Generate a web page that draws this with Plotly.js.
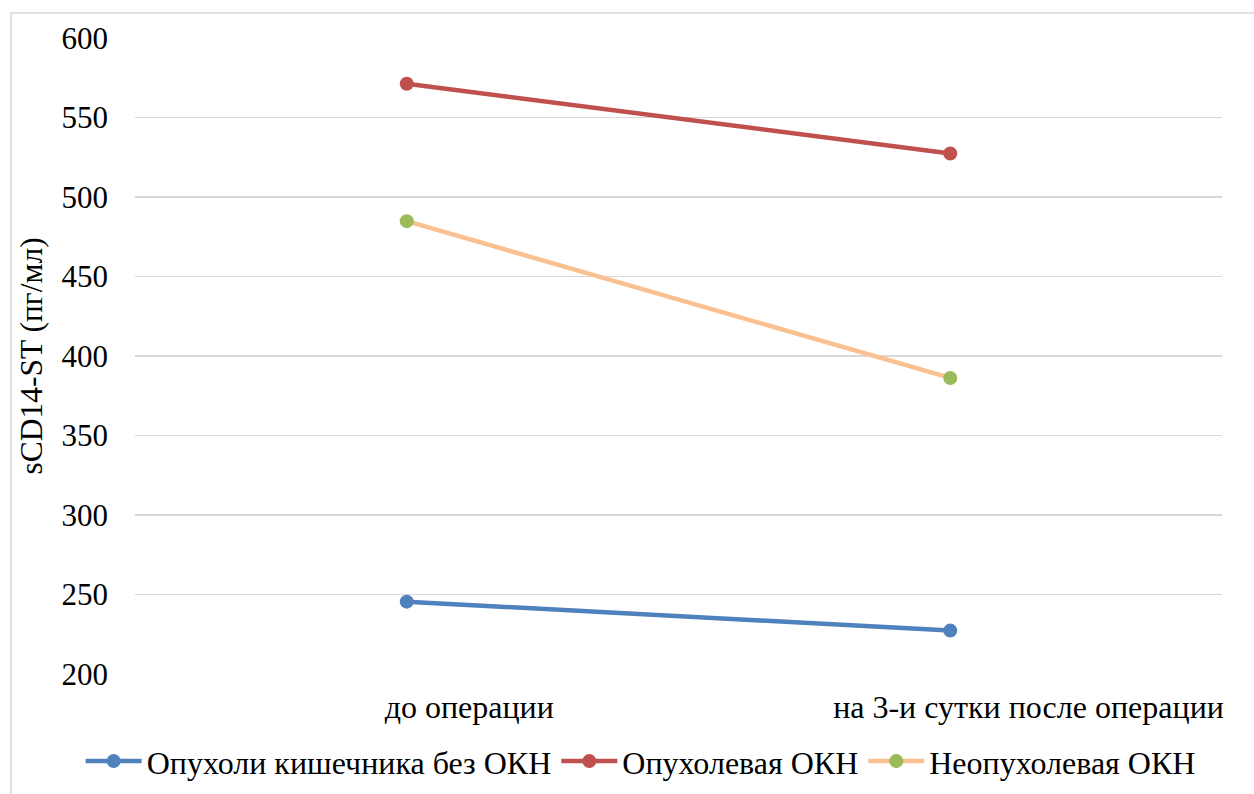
<!DOCTYPE html>
<html>
<head>
<meta charset="utf-8">
<script src="https://cdn.plot.ly/plotly-3.0.1.min.js"></script>
<style>
html,body{margin:0;padding:0;background:#fff;}
#chart{width:1254px;height:794px;}
</style>
</head>
<body>
<div id="chart"></div>
<script>
const categories = ["до операции", "на 3-и сутки после операции"];
const seriesNames = ["Опухоли кишечника без ОКН", "Опухолевая ОКН", "Неопухолевая ОКН"];
const seriesBlue = [245.5, 227.3];
const seriesRed = [571.2, 527.4];
const seriesOrange = [484.8, 386.2];
const yTitle = "sCD14-ST (пг/мл)";

const xIdx = categories.map((c, i) => i);
const font = "Liberation Serif";

function tr(name, y, lineColor, markerColor) {
  return {
    type: "scatter", mode: "lines+markers", name: name,
    x: xIdx, y: y,
    line: {color: lineColor, width: 4.5},
    marker: {color: markerColor, size: 14}
  };
}

const data = [
  tr(seriesNames[0], seriesBlue, "#4F81BD", "#4F81BD"),
  tr(seriesNames[1], seriesRed, "#C0504D", "#C0504D"),
  tr(seriesNames[2], seriesOrange, "#FAC090", "#9BBB59")
];

const layout = {
  width: 1254, height: 794,
  margin: {l: 135, r: 32, t: 38, b: 120, autoexpand: false},
  paper_bgcolor: "#fff", plot_bgcolor: "#fff",
  font: {family: font, size: 31, color: "#000"},
  showlegend: true,
  legend: {orientation: "h", x: -0.05, xanchor: "left", y: -0.094, yanchor: "top",
           font: {family: font, size: 32, color: "#000"}, itemwidth: 56, tracegroupgap: 0, bgcolor: "rgba(0,0,0,0)"},
  xaxis: {
    range: [-0.5, 1.5], tickmode: "array",
    tickvals: [0.115, 1.144], ticktext: categories,
    showgrid: false, zeroline: false, showline: false, ticks: "",
    ticklabelstandoff: 11, tickfont: {family: font, size: 32, color: "#000"}
  },
  yaxis: {
    range: [200, 600], dtick: 50, tick0: 200,
    showgrid: true, gridcolor: "#D9D9D9", gridwidth: 1.5,
    zeroline: false, showline: false, ticks: "",
    ticklabelstandoff: 26, tickfont: {family: font, size: 31, color: "#000"},
    title: {text: yTitle, font: {family: font, size: 31.5, color: "#000"}, standoff: 9}
  },
  shapes: [{
    type: "rect", xref: "paper", yref: "paper",
    x0: (11 - 135) / 1087, x1: 1.2, y0: -0.4, y1: 1 + 25 / 636,
    line: {color: "#D9D9D9", width: 1.5}, fillcolor: "rgba(0,0,0,0)", layer: "below"
  }]
};

Plotly.newPlot("chart", data, layout, {displayModeBar: false, staticPlot: true});
</script>
</body>
</html>
